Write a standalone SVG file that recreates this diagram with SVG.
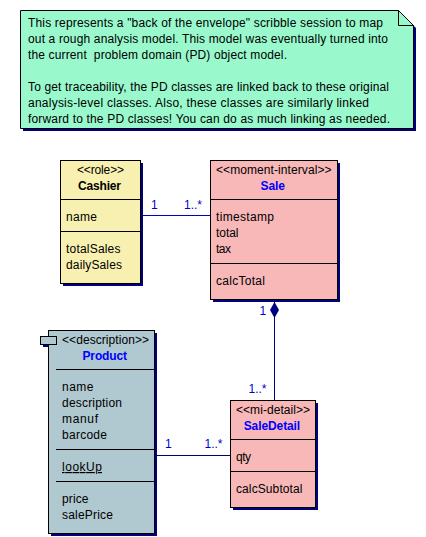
<svg xmlns="http://www.w3.org/2000/svg" width="426" height="537" viewBox="0 0 426 537">
<style>
text{font-family:"Liberation Sans",Arial,sans-serif;font-size:12px;fill:#000}
.b{font-weight:bold}
.blue{fill:#0000ff}
.m{fill:#0000cc}
.sh{fill:#000080}
.box{stroke:#000;stroke-width:1}
.dv{stroke:#000;stroke-width:1;fill:none}
.ln{stroke:#000080;stroke-width:1;fill:none}
.ln2{stroke:#0000cc;stroke-width:1;fill:none}
</style>
<rect width="426" height="537" fill="#fff"/>
<g id="note">
<path class="sh" d="M23 13H401L416 28V131H23Z"/>
<path class="box" fill="#99f8cc" d="M20.500 10.500H398.500L413.500 25.500V128.500H20.500Z"/>
<path class="dv" d="M398.500 10.500V25.500H413.500"/>
<text x="28" y="27" textLength="355">This represents a "back of the envelope" scribble session to map</text>
<text x="28" y="43" textLength="360">out a rough analysis model. This model was eventually turned into</text>
<text x="28" y="59" textLength="259" xml:space="preserve">the current  problem domain (PD) object model.</text>
<text x="28" y="91" textLength="361">To get traceability, the PD classes are linked back to these original</text>
<text x="28" y="107" textLength="341">analysis-level classes. Also, these classes are similarly linked</text>
<text x="28" y="123" textLength="362">forward to the PD classes! You can do as much linking as needed.</text>
</g>
<g id="connectors">
<path class="ln2" d="M143 215.500H210"/>
<path class="ln" d="M157 455.500H230"/>
<path class="ln" d="M274.500 300V400"/>
<path class="sh" d="M274.500 302L279 310L274.500 318L270 310Z"/>
</g>
<g id="cashier">
<rect class="sh" x="63" y="163" width="80" height="123"/>
<rect class="box" x="60.500" y="160.500" width="80" height="123" fill="#f8f0b0"/>
<path class="dv" d="M60 199.500H140M60 231.500H140"/>
<text x="77" y="174" textLength="47">&lt;&lt;role&gt;&gt;</text>
<text class="b" x="78" y="190" textLength="43">Cashier</text>
<text x="66" y="221" textLength="31">name</text>
<text x="66" y="253" textLength="54.500">totalSales</text>
<text x="66" y="269" textLength="56">dailySales</text>
</g>
<g id="sale">
<rect class="sh" x="213" y="163" width="127" height="139"/>
<rect class="box" x="210.500" y="160.500" width="127" height="139" fill="#f8b8b8"/>
<path class="dv" d="M210 199.500H337M210 263.500H337"/>
<text x="216" y="174" textLength="115.500">&lt;&lt;moment-interval&gt;&gt;</text>
<text class="b blue" x="260.500" y="190" textLength="24.500">Sale</text>
<text x="216" y="221" textLength="58">timestamp</text>
<text x="216" y="237" textLength="22.500">total</text>
<text x="216" y="253" textLength="15">tax</text>
<text x="216" y="285" textLength="49">calcTotal</text>
</g>
<g id="product">
<rect class="sh" x="51" y="333" width="106" height="203"/>
<rect class="sh" x="43" y="339" width="16" height="8"/>
<rect class="box" x="48.500" y="330.500" width="106" height="203" fill="#b0c8d0"/>
<rect class="box" x="40.500" y="336.500" width="16" height="8" fill="#b0c8d0"/>
<path class="dv" d="M56 369.500H154M56 449.500H154M56 481.500H154"/>
<text x="62" y="344" textLength="87">&lt;&lt;description&gt;&gt;</text>
<text class="b blue" x="82.500" y="360" textLength="44.500">Product</text>
<text x="62" y="391" textLength="31.500">name</text>
<text x="62" y="407" textLength="60">description</text>
<text x="62" y="423" textLength="36">manuf</text>
<text x="62" y="439" textLength="45">barcode</text>
<text x="62" y="471" textLength="40" text-decoration="underline">lookUp</text>
<text x="62" y="503" textLength="26.500">price</text>
<text x="62" y="519" textLength="51">salePrice</text>
</g>
<g id="saledetail">
<rect class="sh" x="233" y="403" width="85" height="107"/>
<rect class="box" x="230.500" y="400.500" width="85" height="107" fill="#f8b8b8"/>
<path class="dv" d="M230 439.500H315M230 471.500H315"/>
<text x="236" y="414" textLength="74">&lt;&lt;mi-detail&gt;&gt;</text>
<text class="b blue" x="243.700" y="430" textLength="56.500">SaleDetail</text>
<text x="236" y="461" textLength="15">qty</text>
<text x="236" y="493" textLength="66.500">calcSubtotal</text>
</g>
<g id="labels">
<text class="m" x="151" y="209">1</text>
<text class="m" x="184" y="209">1..*</text>
<text class="m" x="259.500" y="315">1</text>
<text class="m" x="248.500" y="393">1..*</text>
<text class="m" x="165" y="448">1</text>
<text class="m" x="204.500" y="448">1..*</text>
</g>
</svg>
